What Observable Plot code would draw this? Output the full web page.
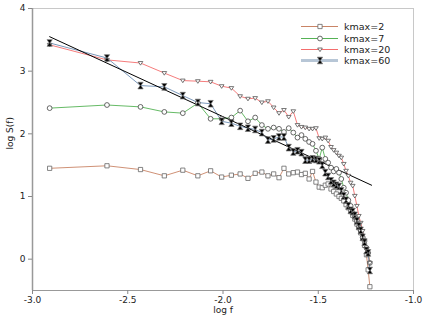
<!DOCTYPE html>
<html><head><meta charset="utf-8">
<script src="https://cdn.jsdelivr.net/npm/d3@7"></script>
<script src="https://cdn.jsdelivr.net/npm/@observablehq/plot@0.6"></script>
<style>
body{margin:0;background:#fff;}
#wrap{position:relative;width:429px;height:321px;font-family:"DejaVu Sans",sans-serif;}
#legend{position:absolute;left:301px;top:21px;font-size:9.5px;color:#222;}
.row{display:flex;align-items:center;height:11.4px;white-space:nowrap;}
.row svg{margin-right:5px;display:block;}
</style></head><body>
<div id="wrap"><div id="legend"></div></div>
<script>
const logF = [-2.910,-2.609,-2.433,-2.308,-2.211,-2.132,-2.065,-2.007,-1.956,-1.910,-1.869,-1.831,-1.796,-1.764,-1.734,-1.706,-1.680,-1.655,-1.631,-1.609,-1.588,-1.568,-1.548,-1.530,-1.512,-1.495,-1.479,-1.463,-1.448,-1.433,-1.419,-1.405,-1.391,-1.379,-1.366,-1.354,-1.342,-1.330,-1.319,-1.308,-1.297,-1.287,-1.277,-1.267,-1.257,-1.247,-1.238,-1.229];
const kmax2 = [1.45,1.49,1.43,1.33,1.42,1.33,1.41,1.31,1.34,1.36,1.29,1.37,1.39,1.33,1.36,1.30,1.45,1.36,1.38,1.39,1.35,1.37,1.28,1.40,1.23,1.15,1.14,1.18,1.20,1.12,1.08,1.04,1.00,0.97,0.93,0.87,0.82,0.76,0.70,0.64,0.56,0.50,0.42,0.33,0.22,0.07,-0.17,-0.44];
const kmax7 = [2.41,2.46,2.43,2.35,2.33,2.49,2.24,2.24,2.26,2.37,2.20,2.26,2.14,2.08,2.10,2.08,2.03,2.09,2.02,1.94,1.98,1.92,1.87,1.84,1.73,1.60,1.78,1.60,1.54,1.46,1.40,1.44,1.38,1.28,1.14,1.06,0.94,0.85,0.74,0.67,0.61,0.51,0.45,0.35,0.29,0.18,0.10,-0.06];
const kmax20 = [3.42,3.18,3.13,2.97,2.85,2.84,2.83,2.76,2.73,2.60,2.56,2.57,2.50,2.52,2.42,2.33,2.38,2.27,2.36,2.14,2.11,2.10,2.08,2.08,2.09,1.93,1.92,1.94,1.89,1.79,1.74,1.70,1.65,1.62,1.52,1.41,1.33,1.22,1.17,1.01,0.85,0.69,0.58,0.45,0.30,0.16,0.08,-0.06];
const kmax60 = [3.45,3.21,2.77,2.75,2.61,2.50,2.48,2.20,2.17,2.12,2.09,2.07,2.02,1.90,1.92,1.95,1.95,1.78,1.71,1.73,1.70,1.58,1.58,1.60,1.59,1.57,1.50,1.38,1.32,1.25,1.21,1.18,1.16,1.09,1.01,0.94,0.85,0.78,0.76,0.70,0.61,0.53,0.46,0.35,0.27,0.14,0.10,-0.18];
const fitX = [-2.91, -1.22];
const fitY = [3.55, 1.18];
const seriesNames = ["kmax=2","kmax=7","kmax=20","kmax=60"];
const xTicks = [-3.0,-2.5,-2.0,-1.5,-1.0];
const yTicks = [0,1,2,3,4];

const hourglass = {draw(ctx, size){const s=Math.sqrt(size);const w=s*0.62,h=s*0.78;
  ctx.moveTo(-w,-h);ctx.lineTo(w,-h);ctx.lineTo(w*0.15,0);ctx.lineTo(w,h);ctx.lineTo(-w,h);ctx.lineTo(-w*0.15,0);ctx.closePath();}};
const triDown = {draw(ctx, size){const s=Math.sqrt(size);const w=s*0.55,h=s*0.5;
  ctx.moveTo(-w,-h*0.7);ctx.lineTo(w,-h*0.7);ctx.lineTo(0,h);ctx.closePath();}};

const styles = [
  {line:"#c98466", symbol:"square", fill:"white", stroke:"#666", lw:0.9, sw:0.8},
  {line:"#55b255", symbol:"circle", fill:"white", stroke:"#444", lw:0.9, sw:0.8},
  {line:"#f46d6d", symbol:triDown, fill:"white", stroke:"#555", lw:0.9, sw:0.8},
  {line:"#6c8db3", symbol:hourglass, fill:"black", stroke:"#777", lw:0.9, sw:0.7}
];
const seriesVals = [kmax2,kmax7,kmax20,kmax60];
const tables = seriesVals.map(v => logF.map((x,i)=>({x, y:v[i]})));
const fit = fitX.map((x,i)=>({x, y:fitY[i]}));

const marks = [
  Plot.frame({stroke:"#c8c8c8"}),
  Plot.ruleX([-3],{stroke:"#999", strokeWidth:1.5}),
  Plot.ruleY([-0.5],{stroke:"#999", strokeWidth:1.2}),
  Plot.axisX({ticks:xTicks, tickFormat:d=>d.toFixed(1), tickSize:4, tickPadding:2, stroke:"#888", label:null, color:"#222"}),
  Plot.axisY({ticks:yTicks, tickFormat:d=>String(d), tickSize:4, tickPadding:3, stroke:"#888", label:null, color:"#222"}),
  Plot.text(["log f"],{frameAnchor:"bottom", dy:22, fill:"#222", fontSize:9}),
  Plot.text(["log S(f)"],{frameAnchor:"left", dx:-22, rotate:-90, fill:"#222", fontSize:9})
];
tables.forEach((t,k)=>{
  marks.push(Plot.line(t,{x:"x",y:"y",stroke:styles[k].line,strokeWidth:styles[k].lw}));
});
marks.push(Plot.line(fit,{x:"x",y:"y",stroke:"black",strokeWidth:1}));
tables.forEach((t,k)=>{
  marks.push(Plot.dot(t,{x:"x",y:"y",symbol:()=>styles[k].symbol,r:2.4,fill:styles[k].fill,stroke:styles[k].stroke,strokeWidth:styles[k].sw}));
});

const chart = Plot.plot({
  width:429, height:321, marginLeft:32, marginRight:16, marginTop:8, marginBottom:31,
  x:{domain:[-3,-1]}, y:{domain:[-0.5,4]},
  symbol:{type:"identity"},
  style:{fontFamily:"DejaVu Sans", fontSize:"9px", background:"white", overflow:"visible"},
  marks
});
const wrap = document.getElementById("wrap");
wrap.insertBefore(chart, wrap.firstChild);

const legend = d3.select("#legend");
seriesNames.forEach((name,k)=>{
  const row = legend.append("div").attr("class","row");
  const svg = row.append("svg").attr("width",38).attr("height",11);
  const st = styles[k];
  svg.append("line").attr("x1",0).attr("x2",37).attr("y1",5.5).attr("y2",5.5)
    .attr("stroke", k===3 ? "#b7c6d6" : st.line).attr("stroke-width", k===3 ? 3 : 1);
  const type = st.symbol==="square" ? d3.symbolSquare : st.symbol==="circle" ? d3.symbolCircle : st.symbol;
  svg.append("path").attr("d", d3.symbol(type, Math.PI*2.4*2.4)()).attr("transform","translate(19,5.5)")
    .attr("fill", st.fill).attr("stroke", st.stroke).attr("stroke-width",st.sw);
  row.append("span").text(name);
});
</script>
</body></html>
